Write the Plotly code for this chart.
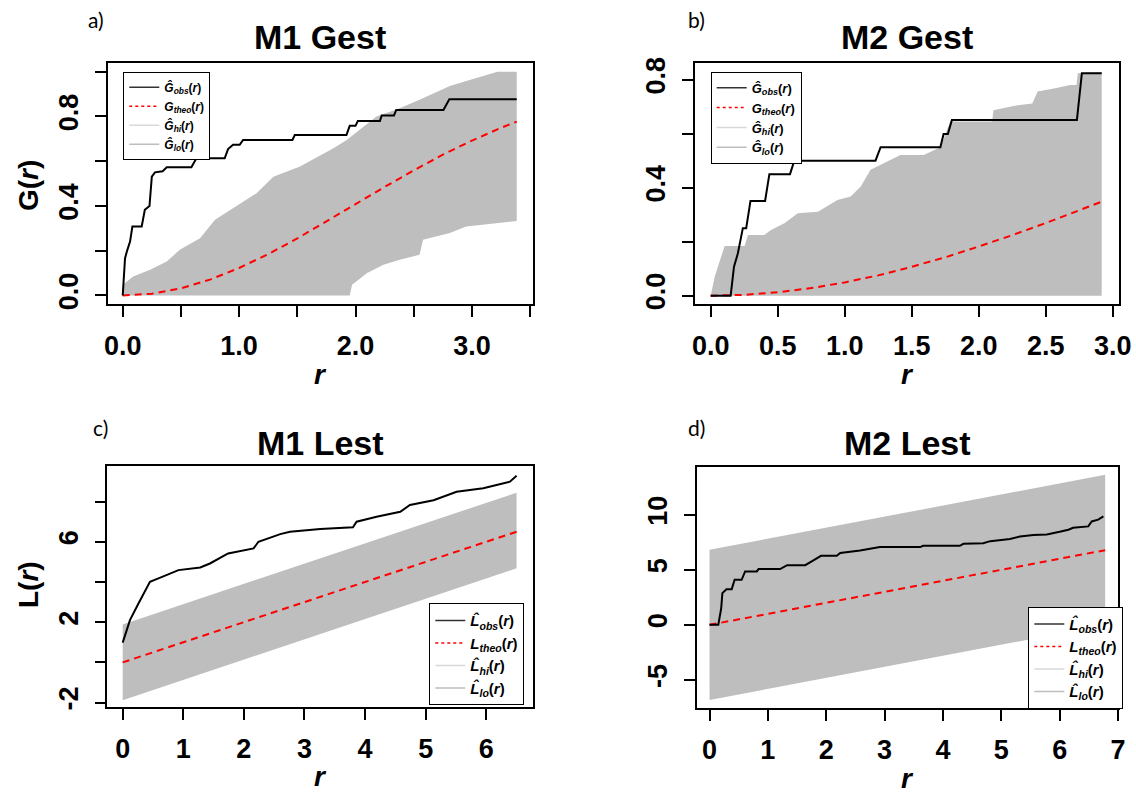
import plotly.graph_objects as go

# ---------------- data ----------------
# Panel a) M1 Gest
a_obs_r = [0, 0.011, 0.02, 0.04, 0.063, 0.083, 0.163, 0.19, 0.23, 0.25, 0.277, 0.343, 0.378, 0.59, 0.633,
           0.876, 0.905, 0.948, 1.005, 1.034, 1.458, 1.478, 1.922, 1.95, 2.0, 2.02, 2.21, 2.225, 2.33, 2.35,
           2.755, 2.806, 3.385]
a_obs_g = [0, 0.10, 0.167, 0.204, 0.241, 0.308, 0.308, 0.383, 0.40, 0.531, 0.55, 0.555, 0.573, 0.573, 0.613,
           0.613, 0.654, 0.673, 0.673, 0.695, 0.695, 0.717, 0.717, 0.758, 0.758, 0.78, 0.78, 0.804, 0.804, 0.829,
           0.829, 0.877, 0.877]
a_theo_r = [0, 0.25, 0.5, 0.75, 1.0, 1.25, 1.5, 1.75, 2.0, 2.25, 2.5, 2.75, 3.0, 3.25, 3.385]
a_theo_g = [0, 0.008, 0.032, 0.071, 0.123, 0.185, 0.255, 0.33, 0.408, 0.485, 0.559, 0.629, 0.692, 0.749, 0.777]
a_hi_r = [0, 0.09, 0.235, 0.378, 0.49, 0.664, 0.793, 0.95, 1.15, 1.294, 1.523, 1.81, 1.924, 2.18, 2.38, 2.55,
          2.81, 2.98, 3.22, 3.385]
a_hi_g = [0.048, 0.085, 0.115, 0.152, 0.204, 0.256, 0.338, 0.39, 0.457, 0.531, 0.576, 0.658, 0.695, 0.80, 0.837,
          0.874, 0.936, 0.963, 1.0, 1.0]
a_lo_r = [0, 1.95, 1.97, 2.1, 2.24, 2.38, 2.55, 2.58, 2.81, 2.95, 3.385]
a_lo_g = [0, 0, 0.048, 0.10, 0.137, 0.16, 0.182, 0.249, 0.279, 0.308, 0.333]

# Panel b) M2 Gest
b_obs_r = [0, 0.149, 0.174, 0.203, 0.24, 0.265, 0.297, 0.406, 0.438, 0.592, 0.624, 1.23, 1.268, 1.714, 1.738,
           1.77, 1.80, 2.733, 2.77, 2.918]
b_obs_g = [0, 0, 0.107, 0.157, 0.25, 0.25, 0.351, 0.351, 0.45, 0.45, 0.50, 0.50, 0.55, 0.55, 0.599, 0.599,
           0.651, 0.651, 0.824, 0.824]
b_theo_r = [0, 0.25, 0.5, 0.75, 1.0, 1.25, 1.5, 1.75, 2.0, 2.25, 2.5, 2.75, 2.918]
b_theo_g = [0, 0.003, 0.0125, 0.028, 0.049, 0.075, 0.107, 0.142, 0.182, 0.224, 0.269, 0.316, 0.348]
b_hi_r = [0, 0.03, 0.054, 0.079, 0.104, 0.253, 0.278, 0.40, 0.45, 0.55, 0.65, 0.80, 0.87, 0.946, 1.045, 1.12,
          1.193, 1.292, 1.416, 1.59, 1.714, 1.788, 2.10, 2.11, 2.26, 2.40, 2.44, 2.58, 2.68, 2.73, 2.74, 2.918]
b_hi_g = [0, 0.07, 0.107, 0.144, 0.184, 0.184, 0.225, 0.225, 0.243, 0.268, 0.305, 0.311, 0.333, 0.354, 0.367,
          0.404, 0.466, 0.49, 0.521, 0.521, 0.55, 0.645, 0.645, 0.687, 0.703, 0.712, 0.756, 0.769, 0.78, 0.78,
          0.824, 0.828]
b_lo_r = [0, 2.918]
b_lo_g = [0, 0]

# Panel c) M1 Lest
c_obs_r = [0, 0.12, 0.26, 0.45, 0.59, 0.92, 1.28, 1.44, 1.74, 2.05, 2.16, 2.24, 2.6, 2.76, 3.26, 3.8, 3.86,
           4.19, 4.58, 4.74, 5.13, 5.51, 5.95, 6.39, 6.5]
c_obs_l = [0.98, 2.1, 2.93, 4.01, 4.18, 4.59, 4.72, 4.92, 5.42, 5.62, 5.67, 6.0, 6.38, 6.5, 6.63, 6.72, 7.0,
           7.24, 7.49, 7.83, 8.07, 8.49, 8.66, 8.99, 9.28]
c_theo_r = [0, 6.5]
c_theo_l = [0, 6.5]
c_hi_r = [0, 6.5]
c_hi_l = [1.89, 8.44]
c_lo_r = [0, 6.5]
c_lo_l = [-1.88, 4.68]

# Panel d) M2 Lest
d_obs_r = [0, 0.15, 0.2, 0.22, 0.29, 0.38, 0.43, 0.55, 0.61, 0.81, 0.84, 1.21, 1.33, 1.64, 1.78, 1.91, 2.18,
           2.24, 2.58, 2.75, 2.92, 3.61, 3.66, 4.29, 4.35, 4.69, 4.81, 5.15, 5.32, 5.55, 5.78, 6.0, 6.15, 6.23,
           6.49, 6.55, 6.66, 6.75]
d_obs_l = [0, 0, 1.52, 2.88, 3.24, 3.24, 4.09, 4.09, 4.85, 4.85, 5.06, 5.06, 5.42, 5.42, 5.85, 6.27, 6.27,
           6.52, 6.76, 6.88, 7.06, 7.06, 7.18, 7.18, 7.36, 7.42, 7.6, 7.79, 8.03, 8.15, 8.21, 8.45, 8.64, 8.82,
           8.94, 9.39, 9.55, 9.85]
d_theo_r = [0, 6.78]
d_theo_l = [0, 6.78]
d_hi_r = [0, 6.78]
d_hi_l = [6.82, 13.62]
d_lo_r = [0, 6.78]
d_lo_l = [-6.82, -0.02]

# tick values / labels
a_xticks, a_xlabels, a_xminor = [0, 1, 2, 3], ["0.0", "1.0", "2.0", "3.0"], [0.5, 1.5, 2.5, 3.5]
b_xticks = [0, 0.5, 1, 1.5, 2, 2.5, 3]
b_xlabels = ["0.0", "0.5", "1.0", "1.5", "2.0", "2.5", "3.0"]
c_xticks, c_xlabels = [0, 1, 2, 3, 4, 5, 6], ["0", "1", "2", "3", "4", "5", "6"]
d_xticks, d_xlabels = [0, 1, 2, 3, 4, 5, 6, 7], ["0", "1", "2", "3", "4", "5", "6", "7"]
a_yticks, a_ylabels, a_yminor = [0, 0.4, 0.8], ["0.0", "0.4", "0.8"], [0.2, 0.6, 1.0]
b_yticks, b_ylabels, b_yminor = [0, 0.4, 0.8], ["0.0", "0.4", "0.8"], [0.2, 0.6]
c_yticks, c_ylabels, c_yminor = [-2, 2, 6], ["-2", "2", "6"], [0, 4, 8]
d_yticks, d_ylabels = [-5, 0, 5, 10], ["-5", "0", "5", "10"]

# ---------------- styling ----------------
W, H = 1136, 805
FONT = "Liberation Sans, Arial, sans-serif"
GREY = "#BEBEBE"
HI_COL = "#D9D9D9"
LO_COL = "#BEBEBE"

def dom_x(l, r):
    return [l / W, r / W]

def dom_y(t, b):
    return [1 - b / H, 1 - t / H]

panels = {
    "a": dict(xd=dom_x(107.7, 532.7), yd=dom_y(62.7, 304), xr=[-0.129, 3.522], yr=[-0.038, 1.040],
              xt=(a_xticks, a_xlabels, a_xminor), yt=(a_yticks, a_ylabels, a_yminor)),
    "b": dict(xd=dom_x(695, 1119), yd=dom_y(62.7, 304), xr=[-0.117, 3.047], yr=[-0.031, 0.863],
              xt=(b_xticks, b_xlabels, None), yt=(b_yticks, b_ylabels, b_yminor)),
    "c": dict(xd=dom_x(107.3, 533.3), yd=dom_y(466, 707), xr=[-0.254, 6.776], yr=[-2.22, 9.77],
              xt=(c_xticks, c_xlabels, None), yt=(c_yticks, c_ylabels, c_yminor)),
    "d": dict(xd=dom_x(696.7, 1118), yd=dom_y(466.7, 708), xr=[-0.22, 7.0], yr=[-7.55, 14.36],
              xt=(d_xticks, d_xlabels, None), yt=(d_yticks, d_ylabels, None)),
}

fig = go.Figure()

def add_panel(idx, legend_name, lo_r, lo_v, hi_r, hi_v, obs_r, obs_v, th_r, th_v, sym):
    xa = "x" if idx == 1 else f"x{idx}"
    ya = "y" if idx == 1 else f"y{idx}"
    fig.add_trace(go.Scatter(x=lo_r, y=lo_v, mode="lines", line=dict(color=GREY, width=0),
                             xaxis=xa, yaxis=ya, showlegend=False, hoverinfo="skip"))
    fig.add_trace(go.Scatter(x=hi_r, y=hi_v, mode="lines", line=dict(color=GREY, width=0),
                             fill="tonexty", fillcolor=GREY, xaxis=xa, yaxis=ya, showlegend=False,
                             hoverinfo="skip"))
    fig.add_trace(go.Scatter(x=th_r, y=th_v, mode="lines", line=dict(color="red", width=2, dash="7px,5px"),
                             xaxis=xa, yaxis=ya, showlegend=False))
    fig.add_trace(go.Scatter(x=obs_r, y=obs_v, mode="lines", line=dict(color="black", width=2),
                             xaxis=xa, yaxis=ya, showlegend=False))
    hat = "Ĝ" if sym == "G" else "L̂"
    theo = sym
    labels = [
        (f"<b><i>{hat}<sub>obs</sub></i>(<i>r</i>)</b>", dict(color="#333333", width=1.5)),
        (f"<b><i>{theo}<sub>theo</sub></i>(<i>r</i>)</b>", dict(color="red", width=1.5, dash="3px,3px")),
        (f"<b><i>{hat}<sub>hi</sub></i>(<i>r</i>)</b>", dict(color=HI_COL, width=1.5)),
        (f"<b><i>{hat}<sub>lo</sub></i>(<i>r</i>)</b>", dict(color=LO_COL, width=1.5)),
    ]
    for name, ln in labels:
        fig.add_trace(go.Scatter(x=[None], y=[None], mode="lines", line=ln, name=name,
                                 legend=legend_name, xaxis=xa, yaxis=ya, showlegend=True))

add_panel(1, "legend", a_lo_r, a_lo_g, a_hi_r, a_hi_g, a_obs_r, a_obs_g, a_theo_r, a_theo_g, "G")
add_panel(2, "legend2", b_lo_r, b_lo_g, b_hi_r, b_hi_g, b_obs_r, b_obs_g, b_theo_r, b_theo_g, "G")
add_panel(3, "legend3", c_lo_r, c_lo_l, c_hi_r, c_hi_l, c_obs_r, c_obs_l, c_theo_r, c_theo_l, "L")
add_panel(4, "legend4", d_lo_r, d_lo_l, d_hi_r, d_hi_l, d_obs_r, d_obs_l, d_theo_r, d_theo_l, "L")

tickfont = dict(family=FONT, size=27, color="black", weight="bold")

def axis_common():
    return dict(showline=True, mirror=True, linecolor="black", linewidth=1.5, ticks="outside", ticklen=11,
                tickwidth=1.5, tickcolor="black", showgrid=False, zeroline=False, tickfont=tickfont)

layout = dict(width=W, height=H, margin=dict(l=0, r=0, t=0, b=0), paper_bgcolor="white",
              plot_bgcolor="white", template="none", font=dict(family=FONT, color="black"))
for i, key in enumerate(["a", "b", "c", "d"], start=1):
    p = panels[key]
    xk = "xaxis" if i == 1 else f"xaxis{i}"
    yk = "yaxis" if i == 1 else f"yaxis{i}"
    xa = axis_common()
    xa.update(domain=p["xd"], range=p["xr"], tickvals=p["xt"][0], ticktext=p["xt"][1],
              anchor="y" if i == 1 else f"y{i}", ticklabelstandoff=6)
    if p["xt"][2]:
        xa["minor"] = dict(tickvals=p["xt"][2], ticks="outside", ticklen=11, tickwidth=1.5, tickcolor="black",
                           showgrid=False)
    ya = axis_common()
    ya.update(domain=p["yd"], range=p["yr"], tickvals=p["yt"][0], ticktext=p["yt"][1],
              anchor="x" if i == 1 else f"x{i}", tickangle=-90, ticklabelstandoff=6)
    if p["yt"][2]:
        ya["minor"] = dict(tickvals=p["yt"][2], ticks="outside", ticklen=11, tickwidth=1.5, tickcolor="black",
                           showgrid=False)
    layout[xk] = xa
    layout[yk] = ya

def leg(l, t, size):
    return dict(x=l / W, y=1 - t / H, xanchor="left", yanchor="top", bgcolor="white", bordercolor="black",
                borderwidth=1, font=dict(family=FONT, size=size, color="black"), tracegroupgap=0,
                itemwidth=30, traceorder="normal")

layout["legend"] = leg(123.3, 71.7, 12)
layout["legend2"] = leg(710.7, 71.7, 13)
layout["legend3"] = leg(429.3, 603.3, 15)
layout["legend4"] = leg(1028.3, 606.7, 15)

ann = []
def text(x, y, s, size, bold=True, family=FONT, angle=0):
    ann.append(dict(x=x / W, y=1 - y / H, xref="paper", yref="paper", text=s, showarrow=False,
                    xanchor="center", yanchor="middle", textangle=angle,
                    font=dict(family=family, size=size, color="black", weight="bold" if bold else "normal")))

text(320, 37, "M1 Gest", 34)
text(907, 37, "M2 Gest", 34)
text(320, 443, "M1 Lest", 34)
text(907, 443, "M2 Lest", 34)
text(96, 19, "a)", 21, bold=False, family="Lato, sans-serif")
text(696, 19, "b)", 21, bold=False, family="Lato, sans-serif")
text(100, 428, "c)", 21, bold=False, family="Lato, sans-serif")
text(696, 428, "d)", 21, bold=False, family="Lato, sans-serif")
text(320, 374, "<i>r</i>", 28)
text(907, 374, "<i>r</i>", 28)
text(320, 776, "<i>r</i>", 28)
text(907, 778, "<i>r</i>", 28)
text(28, 185, "G(<i>r</i>)", 28, angle=-90)
text(28, 584, "L(<i>r</i>)", 28, angle=-90)
layout["annotations"] = ann

fig.update_layout(**layout)
fig.write_html("out.html")
